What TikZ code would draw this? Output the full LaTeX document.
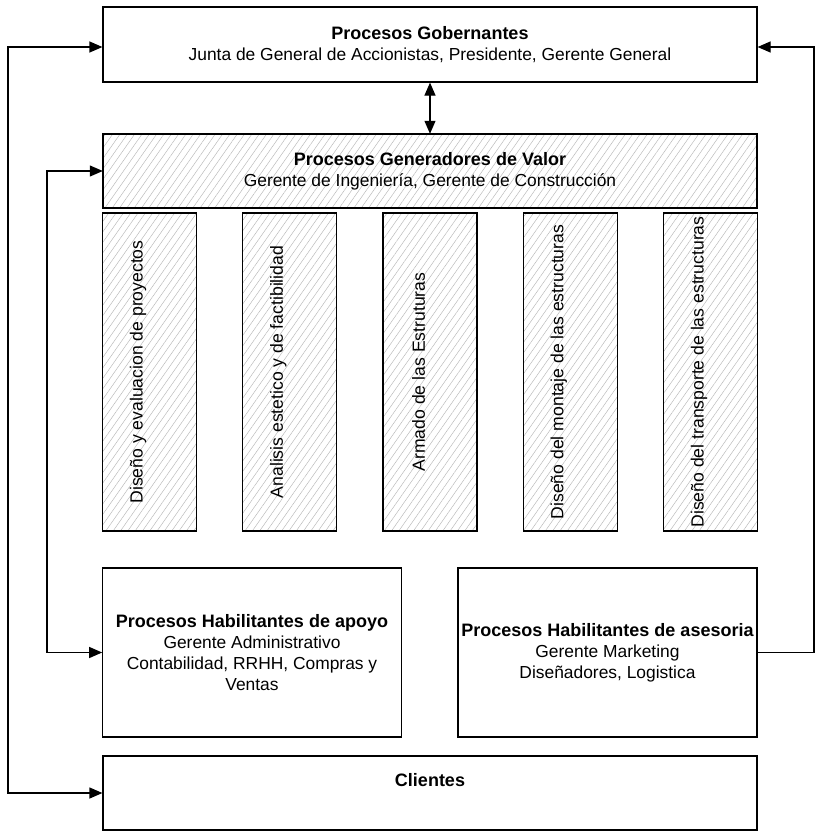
\documentclass[tikz,border=0pt]{standalone}
\usepackage{fontspec}
\setmainfont{Liberation Sans}
\usetikzlibrary{arrows.meta,patterns.meta}

\begin{document}
\begin{tikzpicture}[x=1pt,y=-1pt,
    caja/.style={draw,line width=1.2pt,rectangle,align=center,inner sep=0pt,
      font=\fontsize{17.4}{21}\selectfont},
    rayado/.style={pattern={Lines[angle=55,distance=6pt,line width=0.45pt]},
      pattern color=black!28},
    columna/.style={caja,rayado,minimum width=94pt,minimum height=318pt},
    vertical/.style={rotate=90,font=\fontsize{17.6}{21}\selectfont},
    titulo/.style={font=\fontsize{18}{21}\selectfont\bfseries},
    flecha/.style={line width=1.2pt,>={Triangle[length=13pt,width=11pt]}}]
    \useasboundingbox[fill=white] (0,0) rectangle (817,839);
    \node[caja,minimum width=654pt,minimum height=75pt] (gob) at (430,44.5)
      {{\fontsize{18}{21}\selectfont\bfseries Procesos Gobernantes}\\Junta de General de Accionistas, Presidente, Gerente General};
    \node[caja,rayado,minimum width=654pt,minimum height=74pt] (valor) at (430,171)
      {{\fontsize{18}{21}\selectfont\bfseries Procesos Generadores de Valor}\\Gerente de Ingeniería, Gerente de Construcción};
    \node[columna] (col1) at (149.5,372) {};
    \node[columna] (col2) at (289.75,372) {};
    \node[columna] (col3) at (430,372) {};
    \node[columna] (col4) at (570.25,372) {};
    \node[columna] (col5) at (710.5,372) {};
    \node[vertical] (txt1) at (138,372) {Diseño y evaluacion de proyectos};
    \node[vertical] (txt2) at (278.25,372) {Analisis estetico y de factibilidad};
    \node[vertical] (txt3) at (418.5,372) {Armado de las Estruturas};
    \node[vertical] (txt4) at (558.75,372) {Diseño del montaje de las estructuras};
    \node[vertical] (txt5) at (699,372) {Diseño del transporte de las estructuras};
    \node[caja,minimum width=298.5pt,minimum height=169pt] (apoyo) at (252,652.5)
      {{\fontsize{18}{21}\selectfont\bfseries Procesos Habilitantes de apoyo}\\Gerente Administrativo\\Contabilidad, RRHH, Compras y\\Ventas};
    \node[caja,minimum width=299pt,minimum height=169pt] (asesoria) at (607.5,652.5)
      {{\fontsize{18}{21}\selectfont\bfseries Procesos Habilitantes de asesoria}\\Gerente Marketing\\Diseñadores, Logistica};
    \node[caja,minimum width=654pt,minimum height=74pt] (clientes) at (430,793) {};
    \node[titulo] (cli) at (430,780) {Clientes};
    % conectores
    \draw[flecha,<->] (gob) -- (valor);
    \draw[flecha,<->] ([yshift=-2.5pt]gob.west) -- (8,47) |- (clientes.west);
    \draw[flecha,<->] (valor.west) -- (47,171) |- (apoyo.west);
    \draw[flecha,->] (asesoria.east) -- (814,652.5) |- ([yshift=-2.5pt]gob.east);
\end{tikzpicture}
\end{document}
